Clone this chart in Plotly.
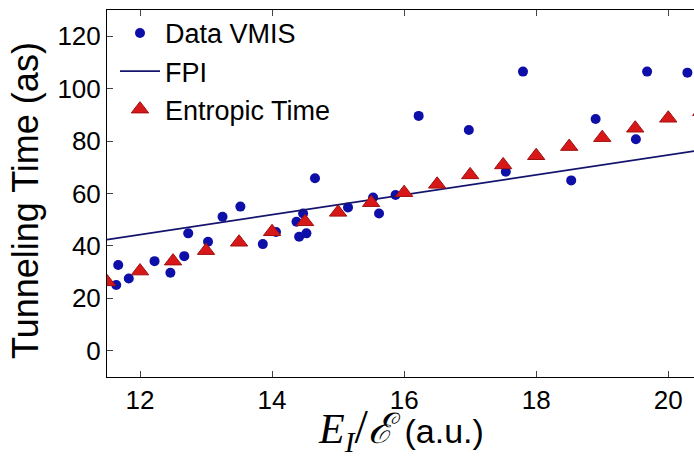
import plotly.graph_objects as go

# Data VMIS (blue circles)
vmis_x = [11.64, 11.67, 11.83, 12.22, 12.46, 12.67, 12.73, 13.03, 13.25, 13.52,
          13.86, 14.06, 14.37, 14.41, 14.47, 14.52, 14.65, 15.15, 15.53, 15.62,
          15.87, 16.22, 16.98, 17.54, 17.80, 18.53, 18.90, 19.51, 19.68, 20.29]
vmis_y = [25.1, 32.7, 27.6, 34.2, 29.8, 36.1, 44.8, 41.6, 51.1, 55.0,
          40.7, 45.3, 49.2, 43.5, 52.4, 44.8, 65.8, 54.7, 58.5, 52.4,
          59.4, 89.6, 84.2, 68.3, 106.5, 65.0, 88.4, 80.7, 106.5, 106.1]

# FPI (line)
fpi_x = [11.5, 20.5]
fpi_y = [42.4, 76.6]

# Entropic Time (red triangles)
ent_x = [11.5, 12.0, 12.5, 13.0, 13.5, 14.0, 14.5, 15.0, 15.5, 16.0,
         16.5, 17.0, 17.5, 18.0, 18.5, 19.0, 19.5, 20.0, 20.5]
ent_y = [26.3, 30.4, 34.2, 38.2, 41.4, 45.4, 49.2, 52.8, 56.5, 60.3,
         63.5, 67.1, 70.9, 74.4, 77.9, 81.3, 84.9, 88.7, 91.2]

x_ticks = [12, 14, 16, 18, 20]
y_ticks = [0, 20, 40, 60, 80, 100, 120]

SANS = "Arial, Liberation Sans, Helvetica, sans-serif"

fig = go.Figure()
fig.add_trace(go.Scatter(
    x=vmis_x, y=vmis_y, mode="markers", name="Data VMIS",
    marker=dict(symbol="circle", size=10, color="#0e0ea8",
                line=dict(width=0))))
fig.add_trace(go.Scatter(
    x=fpi_x, y=fpi_y, mode="lines", name="FPI",
    line=dict(color="#14146e", width=1.8)))
fig.add_trace(go.Scatter(
    x=ent_x, y=ent_y, mode="markers", name="Entropic Time",
    marker=dict(symbol="triangle-up", size=15, color="#d81818",
                line=dict(width=1, color="#a01010"))))

fig.update_layout(
    width=694, height=462,
    margin=dict(l=107, r=0, t=10, b=85),
    paper_bgcolor="white", plot_bgcolor="white",
    font=dict(family=SANS, size=26, color="black"),
    showlegend=True,
    legend=dict(x=0.0136, y=1.003, xanchor="left", yanchor="top",
                bgcolor="rgba(255,255,255,0)", font=dict(size=27, family=SANS),
                itemwidth=40),
    xaxis=dict(range=[11.5, 20.39], tickvals=x_ticks, ticktext=[str(t) for t in x_ticks],
               showgrid=False, zeroline=False, showline=True, linecolor="black",
               linewidth=1, mirror="ticks", ticks="inside", ticklen=6,
               tickcolor="#444", tickfont=dict(size=26)),
    yaxis=dict(range=[-10, 130], tickvals=y_ticks, ticktext=[str(t) for t in y_ticks],
               showgrid=False, zeroline=False, showline=True, linecolor="black",
               linewidth=1, ticks="inside", ticklen=6, tickcolor="#444",
               tickfont=dict(size=26)),
)

fig.add_annotation(
    text="Tunneling Time (as)", xref="paper", yref="paper",
    x=-0.14, y=0.482, xanchor="center", yanchor="middle", textangle=-90,
    showarrow=False, font=dict(size=36, family=SANS, color="black"))

fig.add_annotation(
    text=("<span style='font-family:Liberation Serif, DejaVu Serif, serif'>"
          "<i>E</i><sub><i>I</i></sub><span style='font-size:48px'>/</span><i>ℰ</i></span>"
          " <span style='font-size:34px'>(a.u.)</span>"),
    xref="paper", yref="paper", x=0.501, y=-0.143, xanchor="center", yanchor="middle",
    showarrow=False, font=dict(size=42, family=SANS, color="black"))

fig.write_html("out.html")
